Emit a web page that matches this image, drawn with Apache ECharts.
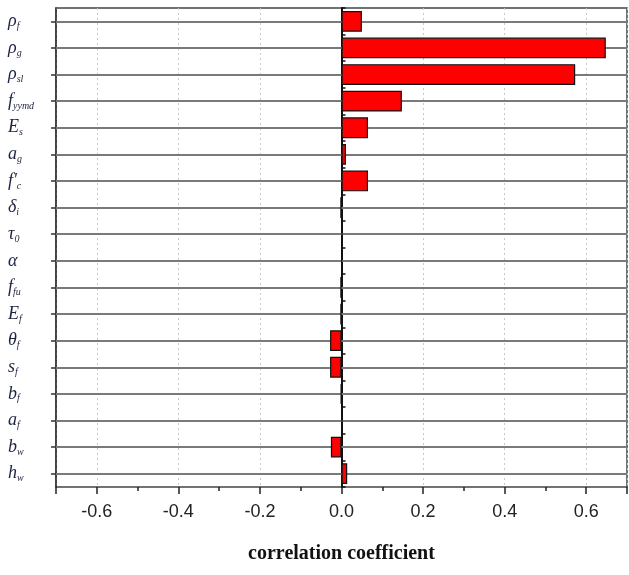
<!DOCTYPE html>
<html>
<head>
<meta charset="utf-8">
<script src="https://cdn.jsdelivr.net/npm/echarts@6/dist/echarts.min.js"></script>
<style>html,body{margin:0;padding:0;background:#fff}#c{width:629px;height:575px}</style>
</head>
<body>
<div id="c"></div>
<script>
// categories, top to bottom ("_" = subscript)
var categories = ["ρ_f", "ρ_g", "ρ_sl", "f_yymd", "E_s", "a_g", "f'_c", "δ_i", "τ_0", "α", "f_fu", "E_f", "θ_f", "s_f", "b_f", "a_f", "b_w", "h_w"];
var values = [0.05, 0.648, 0.573, 0.148, 0.065, 0.011, 0.065, -0.003, 0.003, 0.001, -0.003, -0.003, -0.028, -0.028, -0.002, 0.003, -0.026, 0.014];
var xTickLabels = ["-0.6", "-0.4", "-0.2", "0.0", "0.2", "0.4", "0.6"];
var xName = "correlation coefficient";

function fmtCat(s) {
  var parts = s.split('_');
  var out = '{b|' + parts[0] + '}';
  if (parts[1]) out += '{s|' + parts[1] + '}';
  return out;
}

var chart = echarts.init(document.getElementById('c'), null, {renderer: 'canvas'});
var serif = 'Liberation Serif, Times New Roman, serif';
chart.setOption({
  animation: false,
  grid: {left: 56, right: 2, top: 8, bottom: 88, show: true, borderColor: '#444', borderWidth: 1.5, backgroundColor: 'transparent'},
  xAxis: {
    type: 'value', min: -0.7, max: 0.7, splitNumber: 7,
    axisLine: {onZero: false, lineStyle: {color: '#222', width: 1.5}},
    axisTick: {show: true, length: 7, lineStyle: {color: '#222', width: 1.5}},
    minorTick: {show: true, splitNumber: 2, length: 4, lineStyle: {color: '#222', width: 1.5}},
    axisLabel: {
      showMinLabel: false, showMaxLabel: false, margin: 16,
      fontFamily: 'Liberation Sans, Arial, sans-serif', fontSize: 18, color: '#222',
      formatter: function (v) {
        var t = v.toFixed(1);
        if (t === '-0.0') t = '0.0';
        return xTickLabels.indexOf(t) >= 0 ? t : '';
      }
    },
    splitLine: {show: true, lineStyle: {color: '#c8c8c8', type: [2, 3], width: 1}},
    name: xName, nameLocation: 'middle', nameGap: 57,
    nameTextStyle: {fontFamily: serif, fontWeight: 'bold', fontSize: 20, color: '#111'}
  },
  yAxis: [{
    type: 'category', data: categories, inverse: true, position: 'left',
    axisLine: {onZero: false, lineStyle: {color: '#333', width: 1.5}},
    axisTick: {show: true, alignWithLabel: true, length: 5, lineStyle: {color: '#333', width: 1.5}},
    axisLabel: {
      align: 'left', margin: 48, formatter: fmtCat,
      rich: {
        b: {fontFamily: serif, fontStyle: 'italic', fontSize: 18, color: '#1e2340', lineHeight: 20},
        s: {fontFamily: serif, fontStyle: 'italic', fontSize: 10, color: '#1e2340', lineHeight: 9, verticalAlign: 'bottom'}
      }
    },
    splitLine: {show: false}
  }, {
    type: 'category', data: categories, inverse: true,
    axisLine: {onZero: true, lineStyle: {color: '#111', width: 2}},
    axisTick: {show: true, length: 4, inside: false, lineStyle: {color: '#111', width: 1.5}},
    axisLabel: {show: false},
    splitLine: {show: false}
  }],
  series: [{
    type: 'bar', data: values, yAxisIndex: 0, barWidth: '78%', z: 3,
    itemStyle: {color: '#ff0000', borderColor: '#111', borderWidth: 1.2},
    markLine: {
      silent: true, symbol: 'none', label: {show: false}, z: 1,
      lineStyle: {color: '#7a7a7a', width: 1.8, type: 'solid'},
      data: categories.map(function (c) { return {yAxis: c}; })
    }
  }]
});
</script>
</body>
</html>
